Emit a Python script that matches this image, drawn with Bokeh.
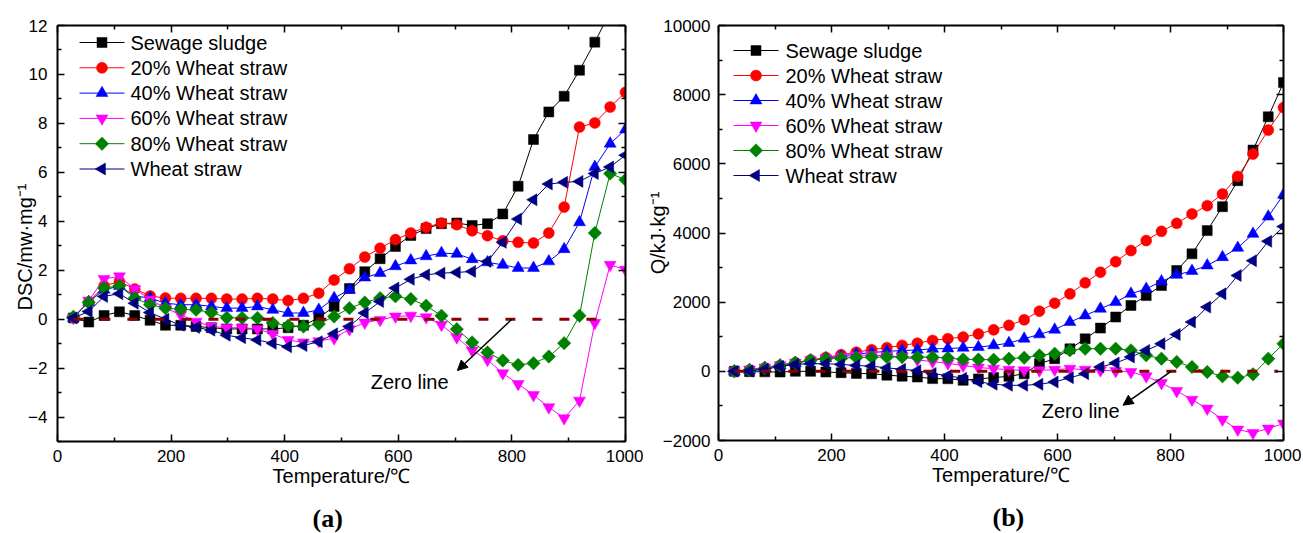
import math
from bokeh.plotting import figure
from bokeh.models import (FixedTicker, LinearAxis, Range1d, Label, Arrow, NormalHead, Title)
from bokeh.layouts import row
from bokeh.embed import file_html
from bokeh.resources import INLINE

# ---------------- data ----------------
temperature = [28, 55, 82, 109, 136, 163, 190, 217, 244, 271, 298, 325, 352, 379, 406, 433, 460,
               487, 514, 541, 568, 595, 622, 649, 676, 703, 730, 757, 784, 811, 838, 865, 892,
               919, 946, 973, 1000]

series_names = ["Sewage sludge", "20% Wheat straw", "40% Wheat straw",
                "60% Wheat straw", "80% Wheat straw", "Wheat straw"]

# (a) DSC, mW/mg
dsc_sewage = [0.05, -0.12, 0.15, 0.3, 0.15, -0.05, -0.25, -0.25, -0.3, -0.35, -0.4, -0.4, -0.4, -0.4, -0.35, -0.25, 0.05,
              0.52, 1.25, 1.94, 2.47, 2.97, 3.42, 3.7, 3.9, 3.93, 3.83, 3.9, 4.3, 5.43, 7.34, 8.47, 9.11, 10.17, 11.32, 12.55, 13.7]
dsc_ws20 = [0.05, 0.7, 1.36, 1.54, 1.23, 0.95, 0.86, 0.85, 0.85, 0.85, 0.82, 0.82, 0.85, 0.82, 0.76, 0.85, 1.06,
            1.6, 2.06, 2.54, 2.9, 3.25, 3.52, 3.76, 3.93, 3.86, 3.61, 3.41, 3.2, 3.14, 3.11, 3.52, 4.58, 7.85, 8.02, 8.67, 9.27]
dsc_ws40 = [0.05, 0.7, 1.2, 1.35, 0.95, 0.86, 0.65, 0.59, 0.59, 0.52, 0.45, 0.45, 0.52, 0.38, 0.25, 0.25, 0.38,
            0.86, 1.2, 1.7, 1.88, 2.16, 2.4, 2.57, 2.7, 2.67, 2.45, 2.32, 2.22, 2.09, 2.09, 2.36, 2.86, 3.96, 6.22, 7.17, 7.75]
dsc_ws60 = [0.05, 0.76, 1.64, 1.75, 1.23, 0.8, 0.45, 0.18, -0.1, -0.3, -0.35, -0.35, -0.4, -0.6, -0.85, -0.95, -0.9,
            -0.78, -0.41, -0.14, -0.03, 0.11, 0.14, 0.08, -0.23, -0.74, -1.28, -1.66, -2.21, -2.65, -3.1, -3.6, -4.05, -3.33, -0.15, 2.22, 2.02]
dsc_ws80 = [0.1, 0.68, 1.27, 1.36, 0.86, 0.59, 0.45, 0.4, 0.38, 0.27, 0.06, 0.05, 0.05, -0.16, -0.27, -0.3, -0.2,
            0.11, 0.45, 0.68, 0.86, 0.93, 0.82, 0.55, 0.14, -0.41, -0.95, -1.36, -1.69, -1.87, -1.8, -1.53, -0.98, 0.14, 3.52, 5.95, 5.7]
dsc_wheat = [0.05, 0.31, 0.93, 1.04, 0.65, 0.27, 0.0, -0.25, -0.34, -0.45, -0.66, -0.76, -0.85, -0.99, -1.13, -1.08, -0.92,
             -0.6, -0.3, 0.25, 0.72, 1.27, 1.63, 1.81, 1.88, 1.91, 1.95, 2.36, 3.14, 4.09, 4.88, 5.52, 5.59, 5.63, 5.95, 6.22, 6.7]

# (b) Q, kJ/kg
q_sewage = [0, -10, -15, -20, 0, 0, -20, -40, -60, -70, -110, -140, -165, -210, -215, -260, -220,
            -180, -145, -70, 220, 365, 650, 940, 1250, 1570, 1905, 2190, 2480, 2915, 3397, 4069, 4762, 5512, 6398, 7359, 8349]
q_ws20 = [0, 40, 100, 170, 250, 330, 400, 480, 555, 625, 685, 750, 815, 895, 945, 990, 1080,
          1200, 1330, 1490, 1740, 1970, 2240, 2560, 2866, 3170, 3492, 3781, 4049, 4280, 4551, 4791, 5128, 5636, 6283, 6975, 7628]
q_ws40 = [0, 40, 100, 170, 240, 310, 380, 440, 500, 540, 580, 600, 620, 650, 660, 680, 700,
          750, 817, 943, 1068, 1202, 1424, 1616, 1809, 2001, 2242, 2386, 2600, 2790, 2900, 3060, 3300, 3570, 3974, 4473, 5108]
q_ws60 = [0, 50, 110, 180, 250, 320, 380, 420, 460, 470, 450, 420, 330, 280, 230, 170, 110,
          77, 48, 29, 29, 48, 77, 48, 29, 10, -19, -144, -337, -568, -818, -1077, -1395, -1683, -1780, -1655, -1510]
q_ws80 = [0, 30, 90, 170, 250, 320, 360, 380, 400, 410, 415, 415, 410, 410, 385, 346, 340,
          337, 365, 394, 462, 510, 606, 654, 654, 654, 606, 462, 365, 269, 125, -19, -144, -183, -87, 365, 798]
q_wheat = [0, 10, 60, 140, 200, 220, 220, 200, 170, 150, 100, 60, 20, -60, -130, -200, -300,
           -375, -404, -404, -375, -308, -183, -67, 125, 240, 413, 606, 798, 1068, 1424, 1857, 2242, 2771, 3200, 3761, 4185]

zero_x_a = [28, 950]
zero_x_b = [28, 990]
zero_y = [0, 0]

x_ticks = [0, 200, 400, 600, 800, 1000]
x_minor = [100, 300, 500, 700, 900]
dsc_ticks = [-4, -2, 0, 2, 4, 6, 8, 10, 12]
dsc_minor = [-5, -3, -1, 1, 3, 5, 7, 9, 11]
q_ticks = [-2000, 0, 2000, 4000, 6000, 8000, 10000]
q_minor = [-1000, 1000, 3000, 5000, 7000, 9000]

# ---------------- style ----------------
colors = ["#000000", "#FF0000", "#0000FF", "#FF00FF", "#008000", "#000080"]
markers = ["square", "circle", "triangle", "inverted_triangle", "square", "triangle"]
msizes = [10, 11, 12, 12, 9.5, 12]
angles = [0, 0, 0, 0, math.pi / 4, math.pi / 2]
FONT = "Liberation Sans"


def style_axis(ax, ticker, labels=True, ticks=None):
    ax.ticker = ticker
    ax.axis_line_width = 2
    ax.axis_line_color = "black"
    ax.major_tick_in = 7
    ax.major_tick_out = 0
    ax.minor_tick_in = 4
    ax.minor_tick_out = 0
    ax.major_tick_line_width = 1.5
    ax.minor_tick_line_width = 1.5
    ax.major_tick_line_color = "black"
    ax.minor_tick_line_color = "black"
    ax.major_label_text_font = FONT
    ax.major_label_text_font_size = "17px"
    ax.major_label_text_color = "black"
    ax.axis_label_text_font = FONT
    ax.axis_label_text_font_size = "20px"
    ax.axis_label_text_font_style = "normal"
    ax.axis_label_text_color = "black"
    if not labels:
        # mirror axis: ticks only, no tick labels
        ax.major_label_overrides = {t: "" for t in ticks}
        ax.major_label_text_font_size = "1px"
        ax.major_label_standoff = 0
        ax.axis_label_standoff = 0


def panel(ys, y_range, yt, ym, ylabel, fw, fh, borders, leg, zero_x,
          arrow_xy, text_xy, caption, cap_offset, ylab_standoff, ytick_standoff,
          ylab_title_offset=None):
    xr0, xr1 = 0, 1000
    yr0, yr1 = y_range

    def fx(dx):  # pixels from frame left -> data x
        return xr0 + dx / fw * (xr1 - xr0)

    def fy(dy):  # pixels from frame top -> data y
        return yr1 - dy / fh * (yr1 - yr0)

    p = figure(frame_width=fw, frame_height=fh,
               x_range=Range1d(xr0, xr1), y_range=Range1d(yr0, yr1),
               output_backend="svg", toolbar_location=None,
               min_border_left=borders[0], min_border_right=borders[1],
               min_border_top=borders[2], min_border_bottom=borders[3],
               x_axis_label="Temperature/\u2103",
               y_axis_label=None if ylab_title_offset is not None else ylabel)
    p.xgrid.visible = False
    p.ygrid.visible = False
    p.outline_line_color = None
    p.background_fill_color = "white"
    p.border_fill_color = "white"

    style_axis(p.xaxis[0], FixedTicker(ticks=x_ticks, minor_ticks=x_minor))
    style_axis(p.yaxis[0], FixedTicker(ticks=yt, minor_ticks=ym))
    p.xaxis[0].major_label_standoff = 8
    p.xaxis[0].axis_label_standoff = 0
    p.yaxis[0].major_label_standoff = ytick_standoff
    p.yaxis[0].axis_label_standoff = ylab_standoff
    top = LinearAxis()
    right = LinearAxis()
    style_axis(top, FixedTicker(ticks=x_ticks, minor_ticks=x_minor), labels=False, ticks=x_ticks)
    style_axis(right, FixedTicker(ticks=yt, minor_ticks=ym), labels=False, ticks=yt)
    p.add_layout(top, "above")
    p.add_layout(right, "right")

    for y, c, m, s, a in zip(ys, colors, markers, msizes, angles):
        p.line(temperature, y, line_color=c, line_width=1)
        p.scatter(temperature, y, marker=m, size=s, angle=a,
                  fill_color=c, line_color=c, line_width=0.5)

    p.line(zero_x, zero_y, line_color="#8B0000", line_width=3, line_dash="10 17")

    # legend (drawn as line + marker + text so the rotated markers show correctly)
    lx0, lx1, ltx, ldy0, lstep = leg
    for i, (name, c, m, s, a) in enumerate(zip(series_names, colors, markers, msizes, angles)):
        yy = fy(ldy0 + lstep * i)
        p.line([fx(lx0), fx(lx1)], [yy, yy], line_color=c, line_width=1)
        p.scatter([fx((lx0 + lx1) / 2)], [yy], marker=m, size=s, angle=a,
                  fill_color=c, line_color=c, line_width=0.5)
        p.add_layout(Label(x=fx(ltx), y=yy, text=name, text_align="left",
                           text_baseline="middle", text_font=FONT,
                           text_font_size="20px", text_color="black"))

    (x0, y0, x1, y1) = arrow_xy
    p.add_layout(Arrow(end=NormalHead(size=10, fill_color="black", line_color="black"),
                       x_start=x0, y_start=y0, x_end=x1, y_end=y1,
                       line_color="black", line_width=1.5))
    p.add_layout(Label(x=text_xy[0], y=text_xy[1], text="Zero line", text_align="center",
                       text_baseline="middle", text_font=FONT, text_font_size="20px",
                       text_color="black"))

    cap = Title(text=caption, align="left", offset=cap_offset, standoff=24,
                text_font="Liberation Serif", text_font_style="bold",
                text_font_size="26px", text_color="black")
    p.add_layout(cap, "below")

    if ylab_title_offset is not None:
        yt_title = Title(text=ylabel, align="left", offset=ylab_title_offset, standoff=-20,
                         text_font=FONT, text_font_style="normal",
                         text_font_size="20px", text_color="black")
        p.add_layout(yt_title, "left")
    return p


pa = panel([dsc_sewage, dsc_ws20, dsc_ws40, dsc_ws60, dsc_ws80, dsc_wheat],
           (-5, 12), dsc_ticks, dsc_minor, "DSC/mw\u00b7mg\u207b\u00b9",
           568, 416, (57, 18, 23, 94), (22, 67, 73, 17, 25.3), zero_x_a,
           (800, 0, 704, -2.1), (620, -2.55), "(a)", 255, -8, 10,
           ylab_title_offset=131)

pb = panel([q_sewage, q_ws20, q_ws40, q_ws60, q_ws80, q_wheat],
           (-2000, 10000), q_ticks, q_minor, "Q/kJ\u00b7kg\u207b\u00b9",
           565, 415, (75, 18, 25, 93), (15, 60, 67, 25, 25), zero_x_b,
           (801, 0, 716, -980), (641, -1140), "(b)", 274, -9, 8)

layout = row(pa, pb)
open("out.html", "w").write(file_html(layout, INLINE))
